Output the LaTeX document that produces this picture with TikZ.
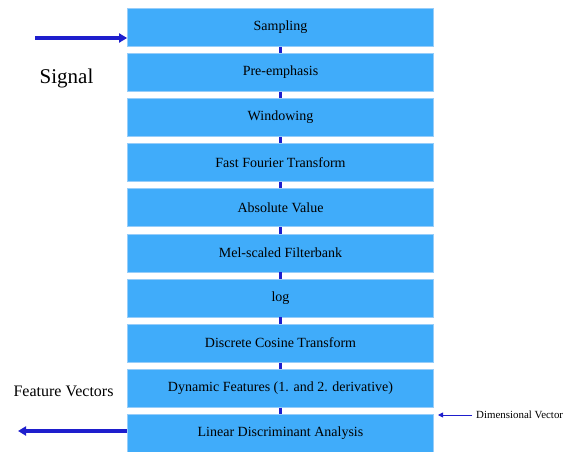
\documentclass[tikz,border=0pt]{standalone}
\usepackage{fontspec}
\setmainfont{Liberation Serif}
\usetikzlibrary{arrows.meta}
\definecolor{boxblue}{RGB}{64,172,250}
\definecolor{boxedge}{RGB}{150,205,250}
\definecolor{arrblue}{RGB}{30,30,205}
\tikzset{
  stage/.style={draw=boxedge, line width=0.8pt, fill=boxblue, minimum width=306pt, minimum height=38pt, inner sep=0pt, font=\fontsize{14}{16}\selectfont, anchor=north},
  link/.style={draw=arrblue, line width=2.4pt},
  bigarrow/.style={draw=arrblue, line width=3.2pt, -{Triangle[length=8pt,width=9pt]}},
  thinarrow/.style={draw=arrblue, line width=0.9pt, -{Triangle[length=5pt,width=5pt]}},
  lbl/.style={inner sep=0pt}
}
\begin{document}
\begin{tikzpicture}[x=1pt,y=-1pt]
\useasboundingbox (0,0) rectangle (571,452);
\foreach \i/\t in {1/Sampling,2/Pre-emphasis,3/Windowing,4/Fast Fourier Transform,5/Absolute Value,6/Mel-scaled Filterbank,7/log,8/Discrete Cosine Transform,9/Dynamic Features (1. and 2. derivative),10/Linear Discriminant Analysis}{
  \node[stage] (b\i) at (280.5,{8+(\i-1)*45.1}) {\t};
}
\foreach \i [evaluate=\i as \j using int(\i+1)] in {1,...,9}{
  \draw[link] (b\i.south) -- (b\j.north);
}
\coordinate (in) at (35,38);
\draw[bigarrow] (in) -- (b1.west |- in);
\node[lbl, font=\fontsize{21}{24}\selectfont] (sig) at (66.5,78) {Signal};
\coordinate (out) at (18,431);
\draw[bigarrow] (b10.west |- out) -- (out);
\node[lbl, font=\fontsize{16}{18}\selectfont] (fv) at (63.5,391) {Feature Vectors};
\node[lbl, font=\fontsize{10.9}{12}\selectfont, anchor=west] (dv) at (476,415) {Dimensional Vector};
\coordinate (dvs) at (472,415);
\coordinate (dve) at (438,415);
\draw[thinarrow] (dvs) -- (dve);
\end{tikzpicture}
\end{document}
